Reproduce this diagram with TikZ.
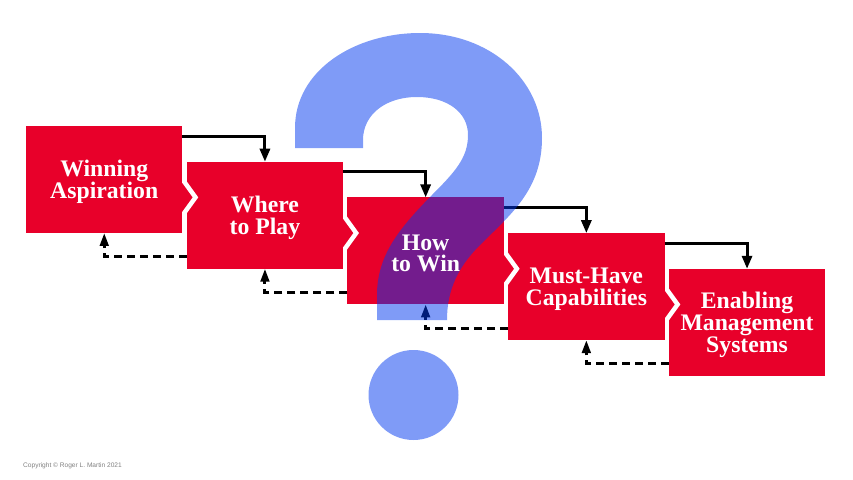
\documentclass[tikz,border=0pt]{standalone}
\usepackage{fontspec}
\setmainfont{Liberation Serif}
\newfontfamily\notefont{Liberation Sans}
\usetikzlibrary{arrows.meta}
\definecolor{boxred}{RGB}{232,0,42}
\definecolor{qblue}{RGB}{0,56,240}

\begin{document}
\begin{tikzpicture}[x=0.02cm, y=-0.02cm,
stepbox/.style={rectangle, fill=boxred, minimum width=3.13cm, minimum height=2.14cm, inner sep=0pt, outer sep=0pt},
steptext/.style={text=white, align=center, inner sep=0pt, yshift=-0.05cm, font=\fontsize{13.5}{12.4}\selectfont\bfseries},
tipfill/.style={fill=boxred, draw=white, line width=0.09cm, line join=miter},
flowarrow/.style={-{Triangle[length=0.26cm, width=0.2cm]}, line width=0.06cm},
backarrow/.style={-{Triangle[length=0.26cm, width=0.17cm]}, line width=0.06cm, dash pattern=on 0.16cm off 0.1cm},
]
\useasboundingbox (0,0) rectangle (853,480);

%Boxes, last one first
\node[stepbox] (systems)      at (747.05,322.3) {};
\filldraw[tipfill] (658.6,278.15) -- (677.6,304.45) -- (658.6,330.75) -- cycle;
\node[stepbox] (capabilities) at (586.35,286.6) {};
\filldraw[tipfill] (497.9,242.45) -- (516.9,268.75) -- (497.9,295.05) -- cycle;
\node[stepbox] (win)          at (425.65,250.9) {};
\filldraw[tipfill] (337.2,206.75) -- (356.2,233.05) -- (337.2,259.35) -- cycle;
\node[stepbox] (play)         at (264.95,215.2) {};
\filldraw[tipfill] (176.5,171.05) -- (195.5,197.35) -- (176.5,223.65) -- cycle;
\node[stepbox] (aspiration)   at (104.25,179.5) {};

%Forward lines
\draw[flowarrow] ([yshift=-0.2cm]aspiration.north east) -| (play.north);
\draw[flowarrow] ([yshift=-0.2cm]play.north east) -| (win.north);
\draw[flowarrow] ([yshift=-0.2cm]win.north east) -| (capabilities.north);
\draw[flowarrow] ([yshift=-0.2cm]capabilities.north east) -| (systems.north);

%Back lines
\draw[backarrow] ([yshift=0.24cm]play.south west) -| (aspiration.south);
\draw[backarrow] ([yshift=0.24cm]win.south west) -| (play.south);
\draw[backarrow] ([yshift=0.24cm]capabilities.south west) -| (win.south);
\draw[backarrow] ([yshift=0.24cm]systems.south west) -| (capabilities.south);

%Question mark
\fill[qblue, fill opacity=0.5] (295,148) -- (295,128) .. controls (295,70) and (355,33) .. (420,33)
  .. controls (490,33) and (542,80) .. (542,138) .. controls (542,190) and (510,215) .. (480,245)
  .. controls (458,267) and (447,290) .. (447,320) -- (377,320) -- (377,295)
  .. controls (377,255) and (400,228) .. (430,197) .. controls (455,172) and (468,158) .. (468,135)
  .. controls (468,112) and (447,97) .. (417,97) .. controls (385,97) and (363,115) .. (363,140)
  -- (363,148) -- cycle
  (413.5,395) circle [radius=45];

%Labels
\node[steptext] (aspirationlabel)   at (aspiration)   {Winning\\Aspiration};
\node[steptext] (playlabel)         at (play)         {Where\\to Play};
\node[steptext] (winlabel)          at (win)          {How\\to Win};
\node[steptext] (capabilitieslabel) at (capabilities) {Must-Have\\Capabilities};
\node[steptext] (systemslabel)      at (systems)      {Enabling\\Management\\Systems};

\node[anchor=base west, text=black!50, font=\notefont\fontsize{3.75}{4.5}\selectfont] (copyright) at (17,467) {Copyright © Roger L. Martin 2021};
\end{tikzpicture}
\end{document}
